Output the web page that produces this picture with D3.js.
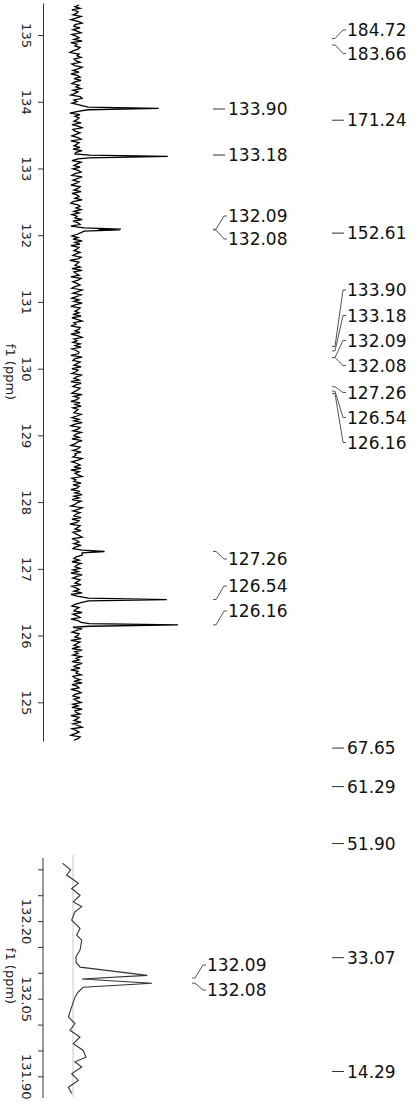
<!DOCTYPE html>
<html><head><meta charset="utf-8">
<script src="https://cdn.jsdelivr.net/npm/d3@7"></script>
<style>html,body{margin:0;padding:0;background:#fff;} svg{display:block;}</style>
</head><body>
<svg id="c" width="417" height="1102"></svg>
<script>
// ---------- DATA ----------
const mainTicks = [135,134,133,132,131,130,129,128,127,126,125];
const mainNoiseStart = 135.45, mainNoiseStep = 0.02454;   // ppm grid of the baseline noise
const mainNoise = [
 3,-1,4,-4,2,1,-3,5,0,-5,2,6,-1,-2,4,-3,1,5,-4,0,3,-2,6,-5,1,
 -1,4,2,-3,-6,3,1,5,-2,0,4,-4,-1,6,2,-3,3,-5,1,4,-2,5,-1,-4,3,
 0,5,-3,2,-1,-5,4,6,-2,1,-4,3,0,-3,5,2,-6,4,-1,3,1,-2,5,-4,2,
 6,-3,-1,4,0,-4,2,5,-5,3,1,-2,4,-3,6,0,-1,-5,3,2,-4,5,1,-2,4,
 -3,2,5,-1,-4,6,1,-3,3,0,-5,4,2,-2,5,-4,1,3,-1,6,-3,-5,2,4,0,
 5,-2,3,-4,1,-1,6,-3,2,4,-5,0,3,-2,5,1,-4,2,-3,6,-1,4,-5,3,1,
 -2,4,0,-3,5,2,-6,3,1,-1,4,-4,6,-2,0,3,-5,5,2,-3,1,4,-1,-4,6,
 2,-3,5,1,-4,3,-2,6,0,-5,4,2,-1,3,-3,5,-4,1,6,-2,0,-5,4,3,-1,
 4,-5,2,6,-2,1,-3,4,-1,5,-4,0,3,2,-5,6,-1,-3,4,1,-2,5,-4,2,0,
 -4,6,1,-2,3,-5,5,0,-3,4,2,-1,-4,6,-2,3,1,-5,4,-1,5,-3,2,0,-2,
 5,1,-4,3,-2,6,-1,-5,4,2,-3,5,0,-2,3,-4,6,1,-1,-5,4,2,-3,5,-1,
 0,-3,6,2,-4,1,4,-2,5,-5,3,-1,2,6,-4,0,-2,5,-3,3,1,-5,4,-1,6,
 -2,3,-4,5,1,-1,-5,6,2,-3,4,0,-2,5,-4,3,1,-6,4,2,-1,5,-3,0,3,
 6,-4,1,3,-2,5,-1,-3,4,2,-5,6,0,-2,3,-4,5,1,-1,4,-3,2,-5,6,1,
 -3,4,2,-1,5,-4,0,3,-2,6,-5,1,4,-3,2,5,-1,-4,3,0,-2,6,-3,1,4,
 -5,2,5,-2,1,-3,6,0,-4,3,2,-1,5,-5,4,1,-2,3,-4,6,-1,2,-3,5,0,
 3,-4,6,1,-2,4,-5,2,0,5,-3,-1,4,-2,6,-4,1,3,-5,2,5,-1,-3,4,-2,
 1,5,-3,2,-4,6,-1,0,4,-5,3,1,-2,5,-3,2,6,-4,0,3,-1,-5,4,2,-2
];
const mainPeakPpm = [133.92,133.90,133.88, 133.20,133.18,133.16, 132.11,132.09,132.085,132.08,132.06,
                     127.28,127.26,127.24, 126.56,126.54,126.52, 126.18,126.16,126.14];
const mainPeakInt = [12,81,12, 13,90,13, 8,44,22,43,8, 6,28,6, 12,89,12, 13,100,13];

const insetTicks = [132.30,132.25,132.20,132.15,132.10,132.05,132.00,131.95,131.90];
const insetTickLabels = ["","","132.20","","","132.05","","","131.90"];
const insetPpm = [132.312,132.299,132.289,132.273,132.263,132.250,132.237,132.228,132.218,132.202,
                  132.186,132.173,132.163,132.144,132.131,132.120,132.111,132.095,132.088,132.080,
                  132.072,132.062,132.053,132.015,132.002,131.989,131.976,131.963,131.950,131.937,
                  131.928,131.918,131.905,131.892,131.879,131.867];
const insetInt = [-13.5,-3,-8,6.7,-1.7,8.9,0.4,11,2.5,-1.7,
                  8.9,4.7,11,8.9,3.8,4,9,94,11.4,100,
                  12.7,6,2.5,-5.9,2.5,-3.8,8.9,0.4,13,16.5,
                  2.5,11,-1.7,6.7,-5.9,-1.7];

const col1Ppm = [133.90,133.18,132.09,132.08,127.26,126.54,126.16];
const col2Ppm = [184.72,183.66,171.24,152.61,133.90,133.18,132.09,132.08,127.26,126.54,126.16,67.65,61.29,51.90,33.07,14.29];
const insetLabelPpm = [132.09,132.08];
const axisTitle = "f1 (ppm)";

// ---------- LAYOUT ----------
const col1LabelY = [109,155,216,239,559,586,611];
const col2LabelY = [30,53.5,null,null,290,315.5,340.5,365.5,392.5,417.5,442.5,null,null,null,null,null];
const insetLabelY = [965,990];

const svg = d3.select("#c");
const fmt = d3.format(".2f");
const FONT = "DejaVu Sans";

// scales
const yMain = d3.scaleLinear().domain([135.48,124.42]).range([3,741]);
const xMain = d3.scaleLinear().domain([0,100]).range([76,178]);
const yIn = d3.scaleLinear().domain([132.32,131.86]).range([859,1097]);
const xIn = d3.scaleLinear().domain([0,100]).range([73,152]);
const yFull = d3.scaleLinear().domain([190,10]).range([6.5,1097.5]);

// ---------- MAIN SPECTRUM ----------
const noisePts = mainNoise.map((v,i)=>({p: mainNoiseStart - i*mainNoiseStep, v}))
  .filter(d => !mainPeakPpm.some(pp => Math.abs(pp-d.p) < 0.015));
const peakPts = mainPeakPpm.map((p,i)=>({p, v: mainPeakInt[i]}));
const mainSeries = noisePts.concat(peakPts).sort((a,b)=>b.p-a.p);

svg.append("path").datum(mainSeries)
  .attr("fill","none").attr("stroke","#000").attr("stroke-width",1.3)
  .attr("d", d3.line().x(d=>xMain(d.v)).y(d=>yMain(d.p)));

function styleAxis(g){
  g.attr("font-family",FONT).attr("font-size",13);
  g.select(".domain").attr("stroke","#333");
  g.selectAll(".tick line").attr("stroke","#333");
  g.selectAll(".tick text").attr("x",0).attr("y",0).attr("dy",null)
    .attr("fill","#222").attr("text-anchor","middle")
    .attr("transform","translate(-21,0) rotate(90)");
}
const gMain = svg.append("g").attr("transform","translate(43,0)")
  .call(d3.axisLeft(yMain).tickValues(mainTicks).tickSize(5).tickSizeOuter(0).tickFormat(d3.format("d")));
styleAxis(gMain);
svg.append("text").attr("transform","translate(6,372) rotate(90)")
  .attr("text-anchor","middle").attr("font-family",FONT).attr("font-size",13).attr("fill","#222").text(axisTitle);

// ---------- INSET ----------
svg.append("line").attr("x1",xIn(0)).attr("x2",xIn(0)).attr("y1",855).attr("y2",1097)
  .attr("stroke","#c8c8c8").attr("stroke-width",1);
const insetSeries = insetPpm.map((p,i)=>({p, v: insetInt[i]}));
svg.append("path").datum(insetSeries)
  .attr("fill","none").attr("stroke","#333").attr("stroke-width",1.1)
  .attr("d", d3.line().x(d=>xIn(d.v)).y(d=>yIn(d.p)));
const gIn = svg.append("g").attr("transform","translate(43,0)")
  .call(d3.axisLeft(yIn).tickValues(insetTicks).tickSize(5).tickSizeOuter(0)
    .tickFormat((d,i)=>insetTickLabels[i]));
gIn.select(".domain").attr("d","M0,858V1098");
styleAxis(gIn);
svg.append("text").attr("transform","translate(6,976) rotate(90)")
  .attr("text-anchor","middle").attr("font-family",FONT).attr("font-size",13).attr("fill","#222").text(axisTitle);

// ---------- PEAK LABELS ----------
function labels(ppms, yScale, labelY, x0){
  const g = svg.append("g").attr("font-family",FONT).attr("font-size",17).attr("fill","#111");
  ppms.forEach((p,i)=>{
    const py = yScale(p);
    const ly = labelY[i] == null ? py : labelY[i];
    if (Math.abs(ly-py) < 3) {
      g.append("line").attr("x1",x0).attr("x2",x0+12).attr("y1",ly).attr("y2",ly)
        .attr("stroke","#333").attr("stroke-width",1);
    } else {
      g.append("path").attr("fill","none").attr("stroke","#555").attr("stroke-width",1)
        .attr("d",`M${x0},${py}L${x0+3},${py}L${x0+11},${ly}L${x0+14},${ly}`);
    }
    g.append("text").attr("x",x0+15).attr("y",ly+6.2).text(fmt(p));
  });
}
labels(col1Ppm, yMain, col1LabelY, 213);
labels(col2Ppm, yFull, col2LabelY, 332);
labels(insetLabelPpm, yIn, insetLabelY, 192);
</script>
</body></html>
